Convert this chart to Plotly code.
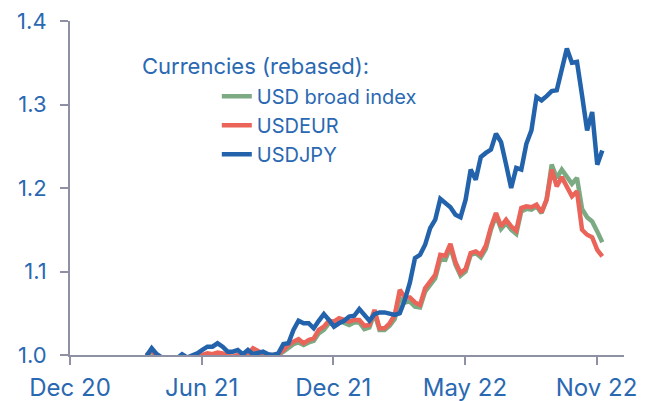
import pandas as pd
import plotly.graph_objects as go

# Weekly observations (rebased)
dates = pd.date_range("2021-03-17", periods=91, freq="7D")

usd_broad = [1.000, 1.004, 0.998, 0.996, 0.995, 0.996, 0.995, 0.997, 0.996, 0.997,
             0.998, 0.999, 1.001, 1.000, 1.002, 1.001, 0.998, 0.997, 0.999, 0.998,
             0.999, 1.005, 1.003, 1.000, 0.998, 0.999, 1.000, 1.004, 1.009, 1.013,
             1.015, 1.012, 1.015, 1.017, 1.026, 1.030, 1.038, 1.037, 1.041, 1.039,
             1.036, 1.039, 1.039, 1.031, 1.033, 1.050, 1.030, 1.030, 1.035, 1.043,
             1.068, 1.063, 1.064, 1.058, 1.057, 1.076, 1.083, 1.092, 1.115, 1.114,
             1.129, 1.108, 1.095, 1.100, 1.120, 1.122, 1.117, 1.127, 1.150, 1.167,
             1.151, 1.158, 1.150, 1.145, 1.172, 1.175, 1.174, 1.178, 1.170, 1.186,
             1.228, 1.212, 1.222, 1.214, 1.205, 1.212, 1.175, 1.165, 1.160, 1.148,
             1.135]

usdeur = [1.000, 1.006, 0.998, 0.996, 0.995, 0.996, 0.995, 0.997, 0.996, 0.997,
          0.998, 1.000, 1.002, 1.001, 1.003, 1.002, 0.999, 0.998, 1.000, 0.999,
          1.001, 1.008, 1.005, 1.001, 0.999, 1.000, 1.001, 1.006, 1.012, 1.016,
          1.019, 1.014, 1.018, 1.020, 1.030, 1.034, 1.041, 1.040, 1.044, 1.042,
          1.040, 1.042, 1.042, 1.035, 1.036, 1.054, 1.032, 1.032, 1.038, 1.048,
          1.078, 1.069, 1.069, 1.063, 1.060, 1.080, 1.087, 1.096, 1.120, 1.119,
          1.133, 1.111, 1.098, 1.103, 1.122, 1.124, 1.120, 1.131, 1.153, 1.170,
          1.154, 1.162, 1.154, 1.149, 1.176, 1.178, 1.177, 1.180, 1.171, 1.186,
          1.222, 1.202, 1.213, 1.200, 1.190, 1.196, 1.150, 1.144, 1.141, 1.126,
          1.118]

usdjpy = [0.999, 1.008, 1.001, 0.997, 0.996, 0.997, 0.996, 1.001, 0.997, 0.999,
          1.002, 1.006, 1.010, 1.010, 1.014, 1.010, 1.004, 1.004, 1.006, 1.001,
          1.006, 1.001, 1.002, 1.004, 1.001, 1.000, 1.002, 1.013, 1.014, 1.030,
          1.041, 1.038, 1.038, 1.032, 1.041, 1.049, 1.042, 1.034, 1.038, 1.041,
          1.046, 1.047, 1.055, 1.047, 1.041, 1.049, 1.051, 1.051, 1.050, 1.048,
          1.050, 1.066, 1.087, 1.116, 1.120, 1.132, 1.152, 1.162, 1.187, 1.182,
          1.177, 1.168, 1.165, 1.186, 1.222, 1.210, 1.237, 1.242, 1.246, 1.265,
          1.255, 1.228, 1.200, 1.224, 1.222, 1.253, 1.269, 1.309, 1.305, 1.310,
          1.316, 1.317, 1.344, 1.367, 1.350, 1.351, 1.311, 1.269, 1.291, 1.228,
          1.245]

tick_dates = ["2020-12-01", "2021-06-01", "2021-11-30", "2022-05-31", "2022-11-29"]
tick_labels = ["Dec 20", "Jun 21", "Dec 21", "May 22", "Nov 22"]
y_ticks = [1.0, 1.1, 1.2, 1.3, 1.4]

BLUE_TXT = "#2A69B2"
GREEN = "#7BAA83"
RED = "#EA6459"
BLUE = "#2363AB"
AXIS = "#8E90A3"
FONT = "Inter"

fig = go.Figure()
fig.add_trace(go.Scatter(x=dates, y=usd_broad, mode="lines", name="USD broad index",
                         line=dict(color=GREEN, width=4.5)))
fig.add_trace(go.Scatter(x=dates, y=usdeur, mode="lines", name="USDEUR",
                         line=dict(color=RED, width=4.5)))
fig.add_trace(go.Scatter(x=dates, y=usdjpy, mode="lines", name="USDJPY",
                         line=dict(color=BLUE, width=4.5)))

# page body has an 8px margin; figure sized to fill the remaining window
fig.update_layout(
    template="none",
    width=647, height=393,
    margin=dict(l=62, r=31, t=13, b=46, autoexpand=False),
    paper_bgcolor="white", plot_bgcolor="white",
    font=dict(family=FONT, size=22, color=BLUE_TXT),
    showlegend=True,
    legend=dict(x=0.265, y=0.833, xanchor="left", yanchor="top",
                font=dict(family=FONT, size=20, color=BLUE_TXT),
                bgcolor="rgba(0,0,0,0)", tracegroupgap=0, itemwidth=30),
    xaxis=dict(type="date", range=["2020-12-01", "2023-01-06"], automargin=False,
               tickvals=tick_dates, ticktext=tick_labels,
               showgrid=False, zeroline=False, showline=True, linecolor=AXIS,
               linewidth=2, ticks="outside", ticklen=8, tickwidth=2, tickcolor=AXIS,
               ticklabelstandoff=2, ticklabeloverflow="allow",
               tickfont=dict(family=FONT, size=24, color=BLUE_TXT)),
    yaxis=dict(range=[1.0, 1.4], tickvals=y_ticks, tickformat=".1f", automargin=False,
               showgrid=False, zeroline=False, showline=True, linecolor=AXIS,
               linewidth=2, ticks="outside", ticklen=8, tickwidth=2, tickcolor=AXIS,
               ticklabelstandoff=9, ticklabeloverflow="allow",
               tickfont=dict(family=FONT, size=22, color=BLUE_TXT)),
    annotations=[dict(text="Currencies (rebased):", xref="paper", yref="paper",
                      x=(140 - 70) / 554, y=(355 - 66) / 334, xanchor="left",
                      yanchor="middle", showarrow=False,
                      font=dict(family=FONT, size=22, color=BLUE_TXT))],
)

fig.write_html("out.html")
